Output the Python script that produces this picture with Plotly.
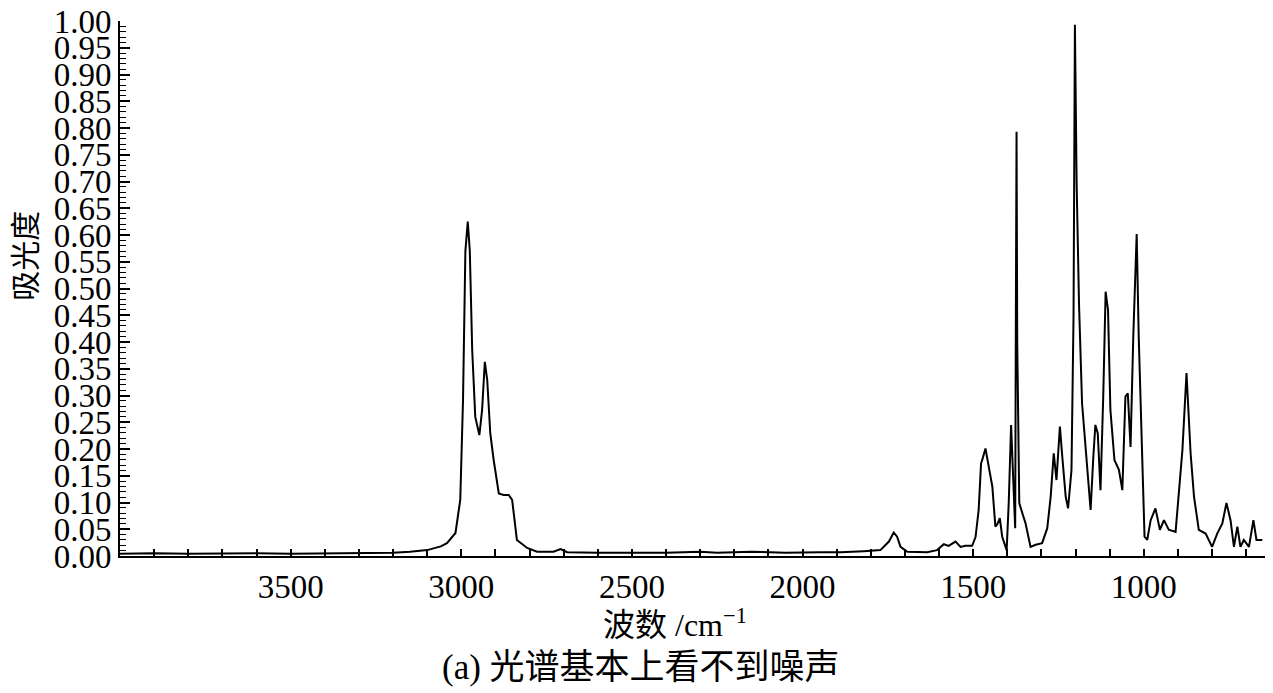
import plotly.graph_objects as go

# IR spectrum (wavenumber in cm-1, absorbance)
wavenumber = [
    4000, 3900, 3800, 3700, 3600, 3500, 3400, 3300, 3200, 3150,
    3100, 3060, 3042, 3017, 3003, 2995, 2988, 2981, 2975, 2968,
    2959, 2947, 2939, 2931, 2924, 2915, 2905, 2890, 2876, 2861,
    2851, 2837, 2807, 2778, 2730, 2709, 2690, 2600, 2500, 2400,
    2300, 2250, 2150, 2050, 1950, 1889, 1821, 1772, 1747, 1733,
    1723, 1713, 1693, 1635, 1606, 1586, 1572, 1552, 1537, 1523,
    1503, 1493, 1484, 1477, 1472, 1464, 1457, 1444, 1435, 1429,
    1422, 1415, 1402, 1396, 1389, 1383, 1377, 1375, 1373, 1371,
    1365, 1356, 1347, 1332, 1317, 1298, 1283, 1273, 1264, 1256,
    1246, 1239, 1229, 1222, 1212, 1206, 1202, 1197, 1190, 1181,
    1168, 1156, 1148, 1142, 1135, 1127, 1119, 1112, 1105, 1098,
    1086, 1073, 1063, 1054, 1047, 1039, 1031, 1021, 1015, 1005,
    998, 990, 980, 966, 953, 941, 927, 907, 897, 887,
    875, 863, 853, 839, 819, 800, 785, 770, 758, 746,
    736, 726, 717, 707, 692, 679, 670, 653,
]
absorbance = [
    0.004, 0.005, 0.004, 0.005, 0.005, 0.004, 0.005, 0.006, 0.006, 0.008,
    0.011, 0.018, 0.024, 0.043, 0.105, 0.290, 0.570, 0.625, 0.570, 0.385,
    0.260, 0.226, 0.273, 0.363, 0.329, 0.229, 0.179, 0.117, 0.114, 0.114,
    0.105, 0.030, 0.015, 0.008, 0.008, 0.013, 0.007, 0.006, 0.006, 0.006,
    0.008, 0.006, 0.008, 0.006, 0.007, 0.007, 0.009, 0.011, 0.027, 0.044,
    0.036, 0.017, 0.008, 0.007, 0.011, 0.022, 0.019, 0.027, 0.017, 0.019,
    0.019, 0.036, 0.086, 0.173, 0.183, 0.201, 0.176, 0.130, 0.055, 0.060,
    0.071, 0.036, 0.011, 0.098, 0.245, 0.148, 0.052, 0.450, 0.793, 0.400,
    0.099, 0.080, 0.062, 0.017, 0.021, 0.024, 0.052, 0.111, 0.192, 0.142,
    0.242, 0.186, 0.111, 0.089, 0.161, 0.450, 0.993, 0.700, 0.472, 0.285,
    0.173, 0.086, 0.186, 0.245, 0.229, 0.123, 0.298, 0.494, 0.460, 0.273,
    0.179, 0.161, 0.123, 0.298, 0.304, 0.204, 0.410, 0.602, 0.410, 0.161,
    0.036, 0.030, 0.067, 0.089, 0.049, 0.067, 0.049, 0.045, 0.123, 0.198,
    0.342, 0.192, 0.111, 0.049, 0.042, 0.017, 0.042, 0.061, 0.099, 0.067,
    0.017, 0.055, 0.017, 0.030, 0.017, 0.067, 0.030, 0.030,
]

x_ticks = [3500, 3000, 2500, 2000, 1500, 1000]
x_title = "波数 /cm<sup>−1</sup>"
y_title = "吸光度"
caption = "(a) 光谱基本上看不到噪声"

serif = "Liberation Serif, Noto Sans CJK SC, serif"

fig = go.Figure()
fig.add_trace(go.Scatter(
    x=wavenumber,
    y=absorbance,
    mode='lines',
    line=dict(color='black', width=2),
    showlegend=False
))

# page body adds an 8px margin, so the figure is sized to leave room for it
fig.update_layout(
    width=1265,
    height=685,
    margin=dict(l=112, r=8, t=13, b=137),
    paper_bgcolor='white',
    plot_bgcolor='white',
    font=dict(family=serif, color='black'),
    xaxis=dict(
        range=[4000, 645],
        tickvals=x_ticks,
        ticks='inside',
        ticklen=7,
        tickwidth=1.5,
        tickcolor='black',
        minor=dict(dtick=100, tick0=0, ticks='inside', ticklen=7,
                   tickwidth=1.5, tickcolor='black'),
        showline=True,
        linecolor='black',
        linewidth=2,
        showgrid=False,
        zeroline=False,
        automargin=False,
        tickfont=dict(size=33, family=serif),
    ),
    yaxis=dict(
        range=[0, 1.0],
        dtick=0.05,
        tick0=0,
        tickformat='.2f',
        ticks='inside',
        ticklen=10,
        tickwidth=1.5,
        tickcolor='black',
        minor=dict(dtick=0.01, ticks='inside', ticklen=6,
                   tickwidth=1, tickcolor='black'),
        showline=True,
        linecolor='black',
        linewidth=2,
        showgrid=False,
        zeroline=False,
        automargin=False,
        ticklabeloverflow='allow',
        tickfont=dict(size=33, family=serif),
    ),
    annotations=[
        dict(text=y_title, textangle=-90, xref='paper', yref='paper',
             x=-0.0821, y=0.561, xanchor='center', yanchor='middle',
             showarrow=False, font=dict(size=30, family=serif)),
        dict(text=x_title, xref='paper', yref='paper',
             x=0.4847, y=-0.125, xanchor='center', yanchor='middle',
             showarrow=False, font=dict(size=32, family=serif)),
        dict(text=caption, xref='paper', yref='paper',
             x=0.455, y=-0.2075, xanchor='center', yanchor='middle',
             showarrow=False, font=dict(size=35, family=serif)),
    ],
)

fig.write_html("out.html")
